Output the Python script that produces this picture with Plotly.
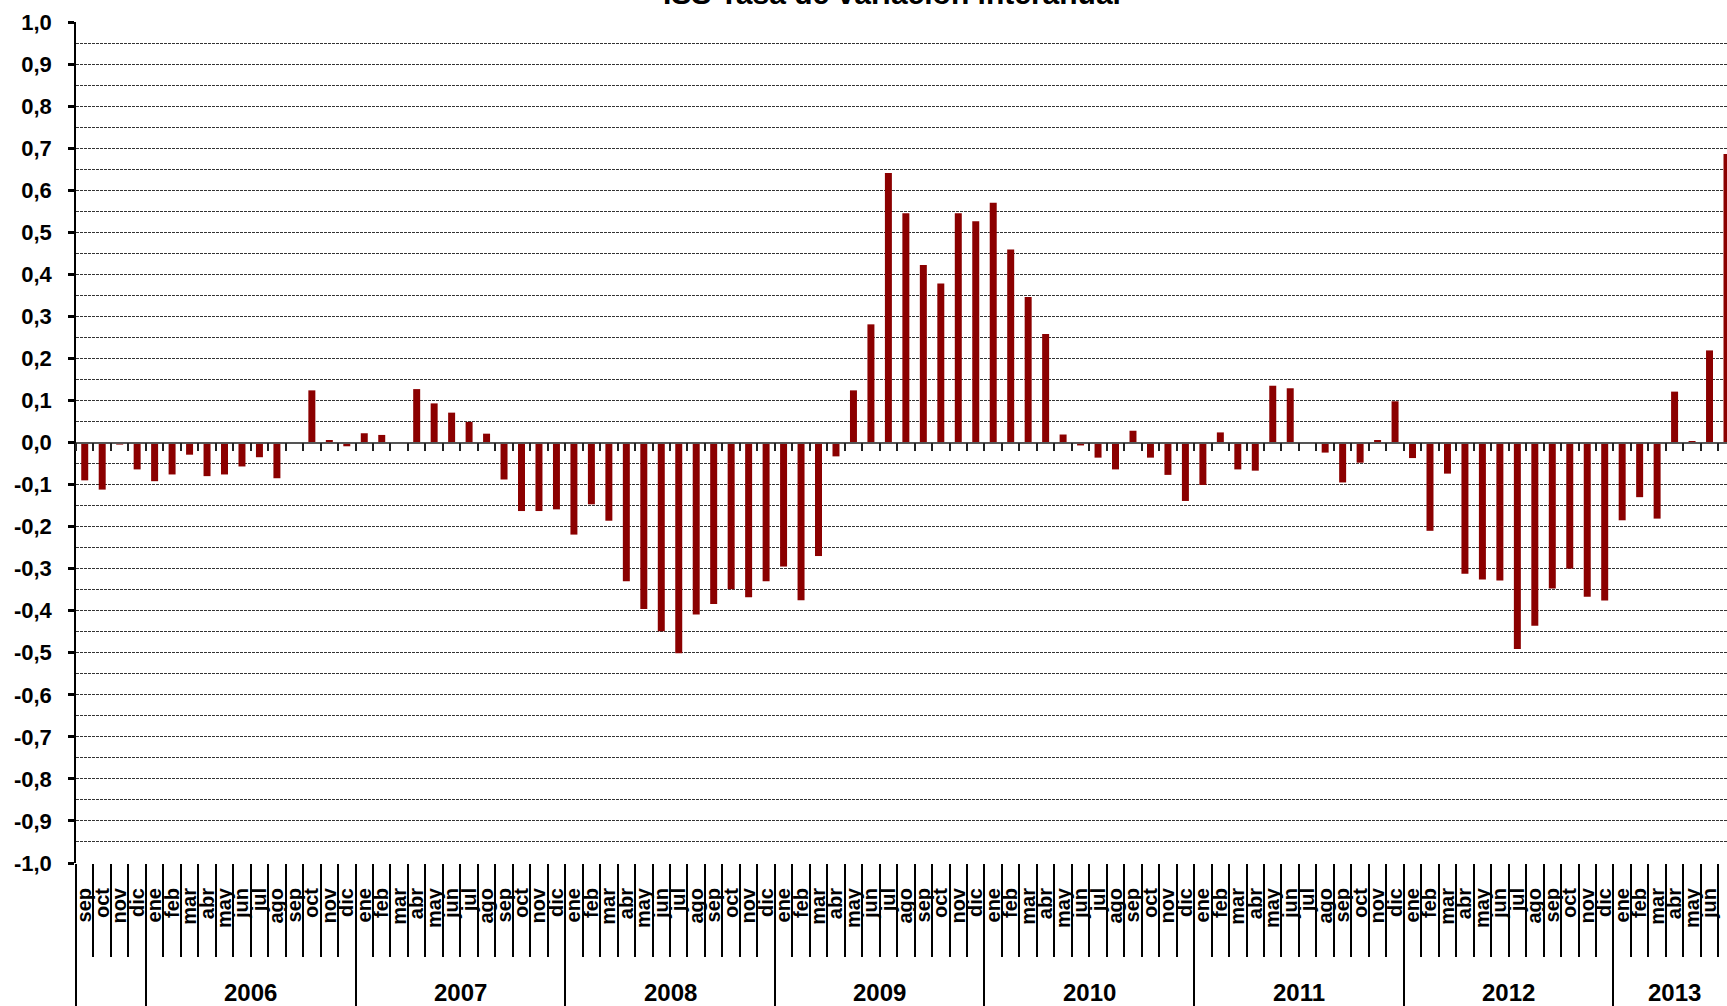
import plotly.graph_objects as go

# ---------------- data ----------------
title_text = "ISS Tasa de variación interanual"
month_names = ["ene", "feb", "mar", "abr", "may", "jun", "jul", "ago", "sep", "oct", "nov", "dic"]
years = [2005, 2006, 2007, 2008, 2009, 2010, 2011, 2012, 2013]
first_month_2005 = 8   # series starts in "sep" 2005
last_month_2013 = 7    # series ends in "jul" 2013 (exclusive index)

v2005 = [-0.090, -0.112, -0.005, -0.064]
v2006 = [-0.092, -0.076, -0.029, -0.080, -0.076, -0.057, -0.035, -0.085, 0.000, 0.124, 0.006, -0.009]
v2007 = [0.022, 0.018, -0.003, 0.127, 0.093, 0.071, 0.049, 0.021, -0.088, -0.163, -0.163, -0.159]
v2008 = [-0.219, -0.147, -0.186, -0.330, -0.396, -0.449, -0.501, -0.409, -0.384, -0.349, -0.368, -0.330]
v2009 = [-0.295, -0.375, -0.270, -0.033, 0.124, 0.281, 0.641, 0.545, 0.422, 0.378, 0.545, 0.526]
v2010 = [0.570, 0.459, 0.346, 0.258, 0.019, -0.007, -0.036, -0.064, 0.028, -0.036, -0.077, -0.139]
v2011 = [-0.101, 0.024, -0.064, -0.067, 0.135, 0.129, 0.000, -0.024, -0.095, -0.048, 0.006, 0.098]
v2012 = [-0.037, -0.210, -0.074, -0.312, -0.326, -0.328, -0.491, -0.436, -0.347, -0.300, -0.367, -0.376]
v2013 = [-0.185, -0.130, -0.181, 0.121, 0.002, 0.219, 0.686]

y_ticks = [round(-1.0 + 0.1 * i, 1) for i in range(21)]

# ---------------- build ----------------
series_by_year = [v2005, v2006, v2007, v2008, v2009, v2010, v2011, v2012, v2013]
month_labels = []
values = []
year_spans = []
for yr, vals in zip(years, series_by_year):
    start = len(values)
    if yr == years[0]:
        names = month_names[first_month_2005:]
    elif yr == years[-1]:
        names = month_names[:last_month_2013]
    else:
        names = month_names
    month_labels += names[:len(vals)]
    values += vals
    year_spans.append((yr, start, len(values) - 1))

n = len(values)
xs = list(range(n))
boundaries = [i - 0.5 for i in range(n + 1)]
year_bounds = [s - 0.5 for (_, s, _) in year_spans]
xrange_ = [-0.5, n - 1.0]
yrange_ = [-1, 1]

def fmt(v):
    s = f"{v:.1f}".replace(".", ",")
    return "0,0" if s == "-0,0" else s

y_text = [fmt(v) for v in y_ticks]
grid_vals = [round(-0.95 + 0.05 * i, 2) for i in range(39)]
grid_vals = [g for g in grid_vals if abs(g) > 1e-9]

FONT = "Liberation Sans, Arial, sans-serif"

fig = go.Figure()
fig.add_trace(go.Bar(x=xs, y=values, width=0.4, marker=dict(color="#8B0000", line=dict(width=0)),
                     xaxis="x", yaxis="y", hoverinfo="y"))
# empty helper traces so the overlay axes (labels, separators, grid) are drawn
fig.add_trace(go.Scatter(x=[None], y=[None], xaxis="x2", yaxis="y2", hoverinfo="skip", showlegend=False))
fig.add_trace(go.Scatter(x=[None], y=[None], xaxis="x3", yaxis="y", hoverinfo="skip", showlegend=False))

annotations = [
    dict(text=title_text, xref="paper", yref="paper", x=0.494, y=1, xanchor="center", yanchor="bottom",
         yshift=10, showarrow=False, font=dict(family=FONT, size=30, color="black", weight="bold"))
]
for yr, s, e in year_spans:
    if e - s + 1 >= 6:
        annotations.append(dict(text=str(yr), xref="x", yref="paper", x=(s + e) / 2, y=0,
                                xanchor="center", yanchor="middle", yshift=-129, showarrow=False,
                                font=dict(family=FONT, size=24, color="black", weight="bold")))

fig.update_layout(
    width=1727, height=1006,
    margin=dict(l=76, r=0, t=22, b=143, pad=0, autoexpand=False),
    paper_bgcolor="white", plot_bgcolor="white",
    showlegend=False,
    font=dict(family=FONT, color="black"),
    xaxis=dict(range=xrange_, autorange=False, anchor="free", position=0.5, showline=True,
               linecolor="#555555", linewidth=1.5,
               ticks="outside", tickmode="array", tickvals=boundaries, ticklen=8, tickwidth=1.5,
               tickcolor="#222222", showticklabels=False, showgrid=False, zeroline=False,
               automargin=False, layer="above traces"),
    xaxis2=dict(range=xrange_, autorange=False, overlaying="x", anchor="y2", side="bottom",
                tickmode="array", tickvals=xs,
                ticktext=month_labels, tickangle=-90, ticks="", showgrid=False, zeroline=False, showline=False,
                tickfont=dict(family=FONT, size=20, color="black", weight="bold"), ticklabelstandoff=20,
                automargin=False),
    xaxis3=dict(range=xrange_, autorange=False, overlaying="x", anchor="y", side="bottom",
                tickmode="array", tickvals=year_bounds,
                ticks="outside", ticklen=150, tickwidth=1.5, tickcolor="black", showticklabels=False,
                showgrid=False, zeroline=False, showline=False, automargin=False,
                minor=dict(tickmode="array", tickvals=boundaries, ticks="outside", ticklen=93, tickwidth=1.5,
                           tickcolor="black", showgrid=False)),
    yaxis=dict(range=yrange_, autorange=False, tickmode="array", tickvals=y_ticks, ticktext=y_text,
               ticks="outside", ticklen=6,
               tickwidth=3, tickcolor="black", showline=True, linecolor="black", linewidth=1.5, showgrid=False,
               zeroline=False, tickfont=dict(family=FONT, size=22, color="black", weight="bold"),
               ticklabelstandoff=12, automargin=False),
    yaxis2=dict(range=yrange_, autorange=False, overlaying="y", side="left", tickmode="array",
                tickvals=grid_vals, showgrid=True,
                gridcolor="#333333", gridwidth=1, griddash="3px,1px", showticklabels=False, ticks="",
                showline=False, zeroline=False, automargin=False),
    annotations=annotations,
)

fig.write_html("out.html", config={"displayModeBar": False},
               post_script="document.body.style.margin='0px';")
